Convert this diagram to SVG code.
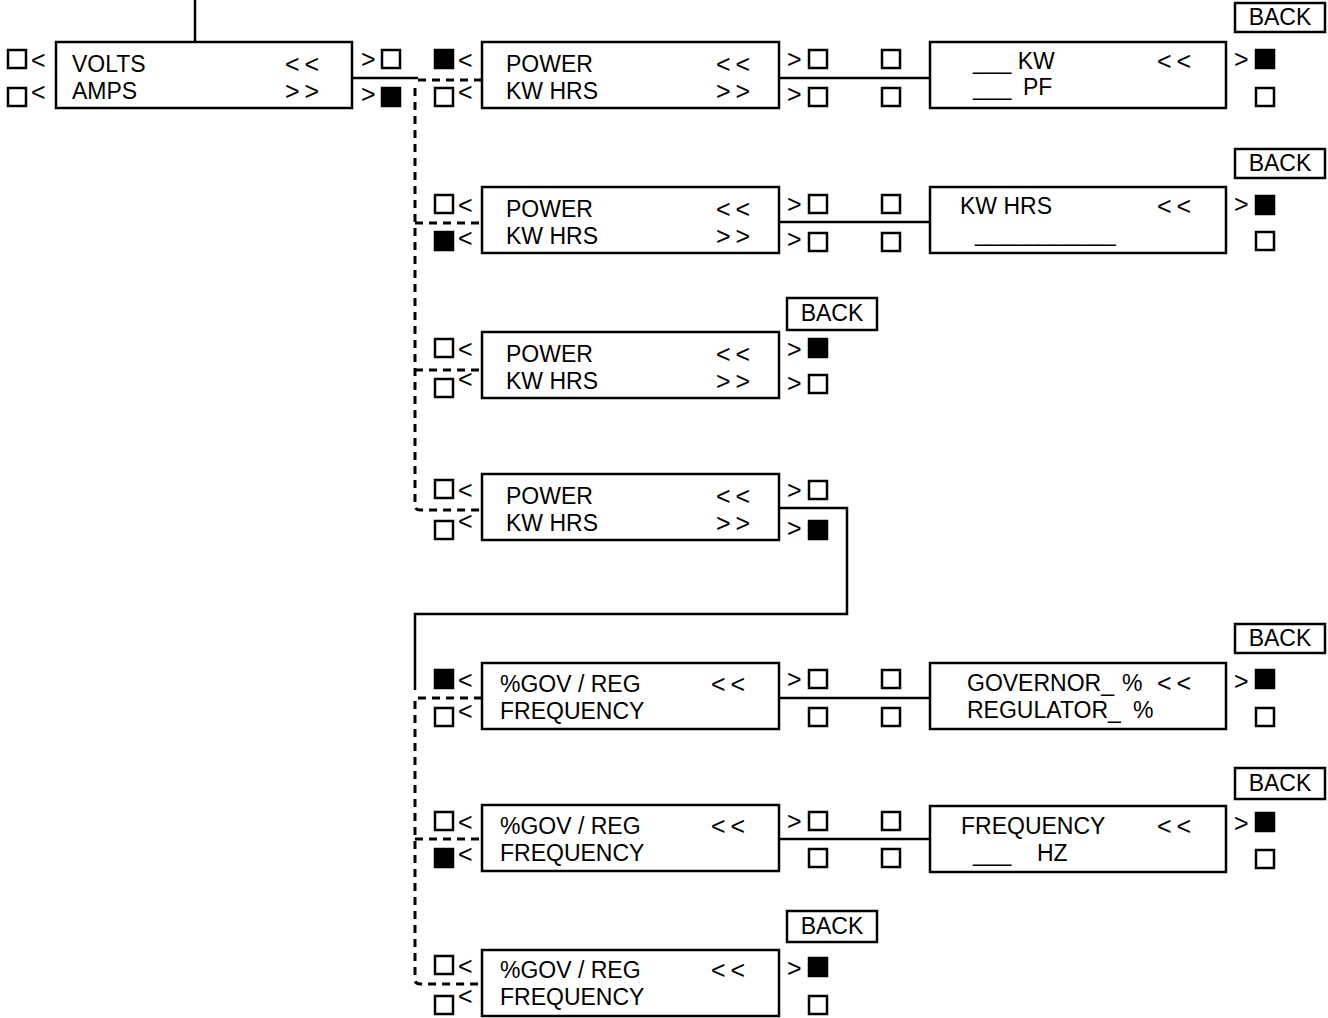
<svg xmlns="http://www.w3.org/2000/svg" xmlns:xlink="http://www.w3.org/1999/xlink" width="1328" height="1018" viewBox="0 0 1328 1018">
<style>
.box{fill:#fff;stroke:#000;stroke-width:2.5}
.so{fill:#fff;stroke:#000;stroke-width:2.5}
.sf{fill:#000;stroke:#000;stroke-width:2.5}
.t{font-family:"Liberation Sans",Arial,Helvetica,sans-serif;font-size:23px;fill:#000}
.m{font-size:25px}
.ar{font-size:25px;letter-spacing:5px}
.bk{text-anchor:middle}
.ln{fill:none;stroke:#000;stroke-width:2.5}
.dl{fill:none;stroke:#000;stroke-width:3;stroke-dasharray:8 6}
</style>
<defs>
<rect id="o" width="18" height="18" class="so"/>
<rect id="f" width="18" height="18" class="sf"/>
</defs>
<rect width="1328" height="1018" fill="#fff"/>

<g id="connectors">
<path class="ln" d="M195,0 V42"/>
<path class="ln" d="M352,78 H418"/>
<path class="dl" d="M418,80 H482"/>
<path class="dl" d="M415,88 V505 Q415,510 420,510 H482"/>
<path class="dl" d="M415,223 H482"/>
<path class="dl" d="M415,370 H482"/>
<path class="ln" d="M779,78 H930"/>
<path class="ln" d="M779,222 H930"/>
<path class="ln" d="M779,508 H847 V614 H415 V690"/>
<path class="dl" d="M482,698 H415 V979 Q415,984 420,984 H482"/>
<path class="dl" d="M415,839 H482"/>
<path class="ln" d="M779,698 H930"/>
<path class="ln" d="M779,839 H930"/>
</g>

<g id="n-volts">
<rect class="box" x="56" y="42" width="296" height="66"/>
<text class="t" x="72" y="72">VOLTS</text>
<text class="t" x="72" y="99">AMPS</text>
<text class="t ar" x="285" y="73">&lt;&lt;</text>
<text class="t ar" x="285" y="100">&gt;&gt;</text>
<use xlink:href="#o" x="8" y="50"/><text class="t m" x="31" y="69">&lt;</text>
<use xlink:href="#o" x="8" y="88"/><text class="t m" x="31" y="101">&lt;</text>
<text class="t m" x="361" y="68">&gt;</text><use xlink:href="#o" x="382" y="50"/>
<text class="t m" x="361" y="103">&gt;</text><use xlink:href="#f" x="382" y="88"/>
</g>

<g id="n-power-1">
<rect class="box" x="482" y="42" width="297" height="66"/>
<text class="t" x="506" y="72">POWER</text>
<text class="t" x="506" y="99">KW HRS</text>
<text class="t ar" x="716" y="73">&lt;&lt;</text>
<text class="t ar" x="716" y="100">&gt;&gt;</text>
<use xlink:href="#f" x="435" y="50"/><text class="t m" x="458" y="69">&lt;</text>
<use xlink:href="#o" x="435" y="88"/><text class="t m" x="458" y="101">&lt;</text>
<text class="t m" x="787" y="68">&gt;</text><use xlink:href="#o" x="809" y="50"/>
<text class="t m" x="787" y="103">&gt;</text><use xlink:href="#o" x="809" y="88"/>
<use xlink:href="#o" x="882" y="50"/>
<use xlink:href="#o" x="882" y="88"/>
</g>

<g id="n-kw">
<rect class="box" x="930" y="42" width="296" height="66"/>
<text class="t" x="973" y="69">___ KW</text>
<text class="t" x="973" y="95">___<tspan x="1023">PF</tspan></text>
<text class="t ar" x="1157" y="70">&lt;&lt;</text>
<text class="t m" x="1234" y="68">&gt;</text><use xlink:href="#f" x="1256" y="50"/>
<use xlink:href="#o" x="1256" y="88"/>
</g>
<g id="n-back-1">
<rect class="box" x="1235" y="3" width="90" height="29"/>
<text class="t bk" x="1280" y="25">BACK</text>
</g>

<g id="n-power-2">
<rect class="box" x="482" y="187" width="297" height="66"/>
<text class="t" x="506" y="217">POWER</text>
<text class="t" x="506" y="244">KW HRS</text>
<text class="t ar" x="716" y="218">&lt;&lt;</text>
<text class="t ar" x="716" y="245">&gt;&gt;</text>
<use xlink:href="#o" x="435" y="195"/><text class="t m" x="458" y="214">&lt;</text>
<use xlink:href="#f" x="435" y="232"/><text class="t m" x="458" y="247">&lt;</text>
<text class="t m" x="787" y="213">&gt;</text><use xlink:href="#o" x="809" y="195"/>
<text class="t m" x="787" y="248">&gt;</text><use xlink:href="#o" x="809" y="233"/>
<use xlink:href="#o" x="882" y="195"/>
<use xlink:href="#o" x="882" y="233"/>
</g>

<g id="n-kwhrs">
<rect class="box" x="930" y="187" width="296" height="66"/>
<text class="t" x="960" y="214">KW HRS</text>
<text class="t" x="975" y="241">___________</text>
<text class="t ar" x="1157" y="215">&lt;&lt;</text>
<text class="t m" x="1234" y="213">&gt;</text><use xlink:href="#f" x="1256" y="196"/>
<use xlink:href="#o" x="1256" y="232"/>
</g>
<g id="n-back-2">
<rect class="box" x="1235" y="149" width="90" height="29"/>
<text class="t bk" x="1280" y="171">BACK</text>
</g>

<g id="n-power-3">
<rect class="box" x="482" y="332" width="297" height="66"/>
<text class="t" x="506" y="362">POWER</text>
<text class="t" x="506" y="389">KW HRS</text>
<text class="t ar" x="716" y="363">&lt;&lt;</text>
<text class="t ar" x="716" y="390">&gt;&gt;</text>
<use xlink:href="#o" x="435" y="339"/><text class="t m" x="458" y="358">&lt;</text>
<use xlink:href="#o" x="435" y="379"/><text class="t m" x="458" y="388">&lt;</text>
<text class="t m" x="787" y="358">&gt;</text><use xlink:href="#f" x="809" y="339"/>
<text class="t m" x="787" y="392">&gt;</text><use xlink:href="#o" x="809" y="375"/>
</g>
<g id="n-back-3">
<rect class="box" x="787" y="298" width="90" height="32"/>
<text class="t bk" x="832" y="321">BACK</text>
</g>

<g id="n-power-4">
<rect class="box" x="482" y="474" width="297" height="66"/>
<text class="t" x="506" y="504">POWER</text>
<text class="t" x="506" y="531">KW HRS</text>
<text class="t ar" x="716" y="505">&lt;&lt;</text>
<text class="t ar" x="716" y="532">&gt;&gt;</text>
<use xlink:href="#o" x="435" y="480"/><text class="t m" x="458" y="499">&lt;</text>
<use xlink:href="#o" x="435" y="521"/><text class="t m" x="458" y="530">&lt;</text>
<text class="t m" x="787" y="499">&gt;</text><use xlink:href="#o" x="809" y="481"/>
<text class="t m" x="787" y="537">&gt;</text><use xlink:href="#f" x="809" y="521"/>
</g>

<g id="n-gov-1">
<rect class="box" x="482" y="663" width="297" height="66"/>
<text class="t" x="500" y="692">%GOV / REG</text>
<text class="t" x="500" y="719">FREQUENCY</text>
<text class="t ar" x="711" y="693">&lt;&lt;</text>
<use xlink:href="#f" x="435" y="670"/><text class="t m" x="458" y="689">&lt;</text>
<use xlink:href="#o" x="435" y="708"/><text class="t m" x="458" y="720">&lt;</text>
<text class="t m" x="787" y="688">&gt;</text><use xlink:href="#o" x="809" y="670"/>
<use xlink:href="#o" x="809" y="708"/>
<use xlink:href="#o" x="882" y="670"/>
<use xlink:href="#o" x="882" y="708"/>
</g>

<g id="n-governor">
<rect class="box" x="930" y="663" width="296" height="66"/>
<text class="t" x="967" y="691">GOVERNOR_<tspan x="1122">%</tspan></text>
<text class="t" x="967" y="718">REGULATOR_<tspan x="1133">%</tspan></text>
<text class="t ar" x="1157" y="692">&lt;&lt;</text>
<text class="t m" x="1234" y="690">&gt;</text><use xlink:href="#f" x="1256" y="670"/>
<use xlink:href="#o" x="1256" y="708"/>
</g>
<g id="n-back-4">
<rect class="box" x="1235" y="624" width="90" height="29"/>
<text class="t bk" x="1280" y="646">BACK</text>
</g>

<g id="n-gov-2">
<rect class="box" x="482" y="805" width="297" height="66"/>
<text class="t" x="500" y="834">%GOV / REG</text>
<text class="t" x="500" y="861">FREQUENCY</text>
<text class="t ar" x="711" y="835">&lt;&lt;</text>
<use xlink:href="#o" x="435" y="812"/><text class="t m" x="458" y="831">&lt;</text>
<use xlink:href="#f" x="435" y="849"/><text class="t m" x="458" y="863">&lt;</text>
<text class="t m" x="787" y="830">&gt;</text><use xlink:href="#o" x="809" y="812"/>
<use xlink:href="#o" x="809" y="849"/>
<use xlink:href="#o" x="882" y="812"/>
<use xlink:href="#o" x="882" y="849"/>
</g>

<g id="n-frequency">
<rect class="box" x="930" y="806" width="296" height="66"/>
<text class="t" x="961" y="834">FREQUENCY</text>
<text class="t" x="973" y="861">___<tspan x="1037">HZ</tspan></text>
<text class="t ar" x="1157" y="835">&lt;&lt;</text>
<text class="t m" x="1234" y="832">&gt;</text><use xlink:href="#f" x="1256" y="813"/>
<use xlink:href="#o" x="1256" y="850"/>
</g>
<g id="n-back-5">
<rect class="box" x="1235" y="768" width="90" height="31"/>
<text class="t bk" x="1280" y="791">BACK</text>
</g>

<g id="n-gov-3">
<rect class="box" x="482" y="950" width="297" height="66"/>
<text class="t" x="500" y="978">%GOV / REG</text>
<text class="t" x="500" y="1005">FREQUENCY</text>
<text class="t ar" x="711" y="979">&lt;&lt;</text>
<use xlink:href="#o" x="435" y="956"/><text class="t m" x="458" y="975">&lt;</text>
<use xlink:href="#o" x="435" y="996"/><text class="t m" x="458" y="1005">&lt;</text>
<text class="t m" x="787" y="977">&gt;</text><use xlink:href="#f" x="809" y="958"/>
<use xlink:href="#o" x="809" y="996"/>
</g>
<g id="n-back-6">
<rect class="box" x="787" y="911" width="90" height="31"/>
<text class="t bk" x="832" y="934">BACK</text>
</g>
</svg>
